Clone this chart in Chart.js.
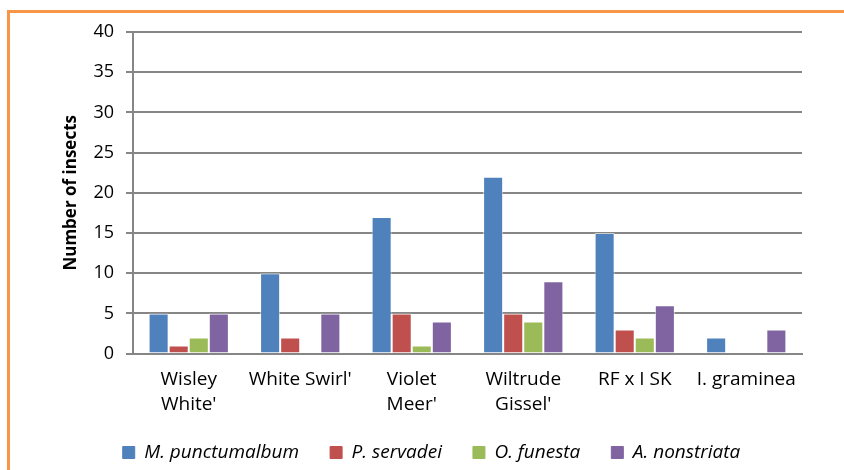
<!DOCTYPE html>
<html>
<head>
<meta charset="utf-8">
<script src="https://cdn.jsdelivr.net/npm/chart.js@4"></script>
<style>
  body { margin: 0; background: #fff; }
  #wrap { position: relative; width: 844px; height: 470px; }
  #frame { position: absolute; left: 7px; top: 10px; right: 0; bottom: 0;
           border-left: 3px solid #F79646; border-top: 3px solid #F79646; }
  canvas { position: absolute; left: 0; top: 0; }
</style>
</head>
<body>
<div id="wrap">
  <div id="frame"></div>
  <canvas id="grafica" width="844" height="470"></canvas>
</div>
<script>
// datos
const categorias = [["Wisley", "White'"], "White Swirl'", ["Violet", "Meer'"], ["Wiltrude", "Gissel'"], "RF x I SK", "I. graminea"];
const punctumalbum = [5, 10, 17, 22, 15, 2];
const servadei = [1, 2, 5, 5, 3, 0];
const funesta = [2, 0, 1, 4, 2, 0];
const nonstriata = [5, 5, 4, 9, 6, 3];
const nombres = ["M. punctumalbum", "P. servadei", "O. funesta", "A. nonstriata"];
const colores = ["#4F81BD", "#C0504D", "#9BBB59", "#8064A2"];

const fuente = "'Open Sans', 'Noto Sans', sans-serif";
const series = [punctumalbum, servadei, funesta, nonstriata];

// etiquetas de la leyenda con un poco mas de espacio entre items
function etiquetasLeyenda(chart) {
    const items = Chart.defaults.plugins.legend.labels.generateLabels(chart);
    items.forEach((it, i) => {
        it.strokeStyle = it.fillStyle;
        if (i < items.length - 1) it.text = it.text + "\u2002\u2002";
    });
    return items;
}

const config = {
    type: "bar",
    data: {
        labels: categorias,
        datasets: series.map((valores, i) => ({
            label: nombres[i],
            data: valores,
            backgroundColor: colores[i],
            borderColor: "rgba(255,255,255,0.6)",
            borderWidth: 1,
            barPercentage: 1,
            categoryPercentage: 0.72
        }))
    },
    options: {
        responsive: false,
        animation: false,
        layout: { padding: { left: 61, right: 42, top: 32, bottom: -2 } },
        plugins: {
            tooltip: { enabled: false },
            legend: {
                position: "bottom",
                labels: {
                    boxWidth: 12, boxHeight: 12, padding: 12,
                    color: "#000",
                    font: { family: fuente, size: 19, style: "italic" },
                    generateLabels: etiquetasLeyenda
                }
            }
        },
        scales: {
            x: {
                grid: { display: false, drawTicks: false },
                border: { color: "#868686", width: 2 },
                ticks: { color: "#000", font: { family: fuente, size: 19, lineHeight: 1.3 }, padding: 14, maxRotation: 0, autoSkip: false }
            },
            y: {
                min: 0, max: 40,
                grid: { color: "#868686", lineWidth: 2, tickLength: 7 },
                border: { color: "#868686", width: 2 },
                ticks: { stepSize: 5, color: "#000", font: { family: fuente, size: 18 }, padding: 12 },
                title: { display: true, text: "Number of insects", color: "#000", font: { family: fuente, size: 17, weight: "bold" }, padding: 0 }
            }
        }
    }
};

new Chart(document.getElementById("grafica").getContext("2d"), config);
</script>
</body>
</html>
